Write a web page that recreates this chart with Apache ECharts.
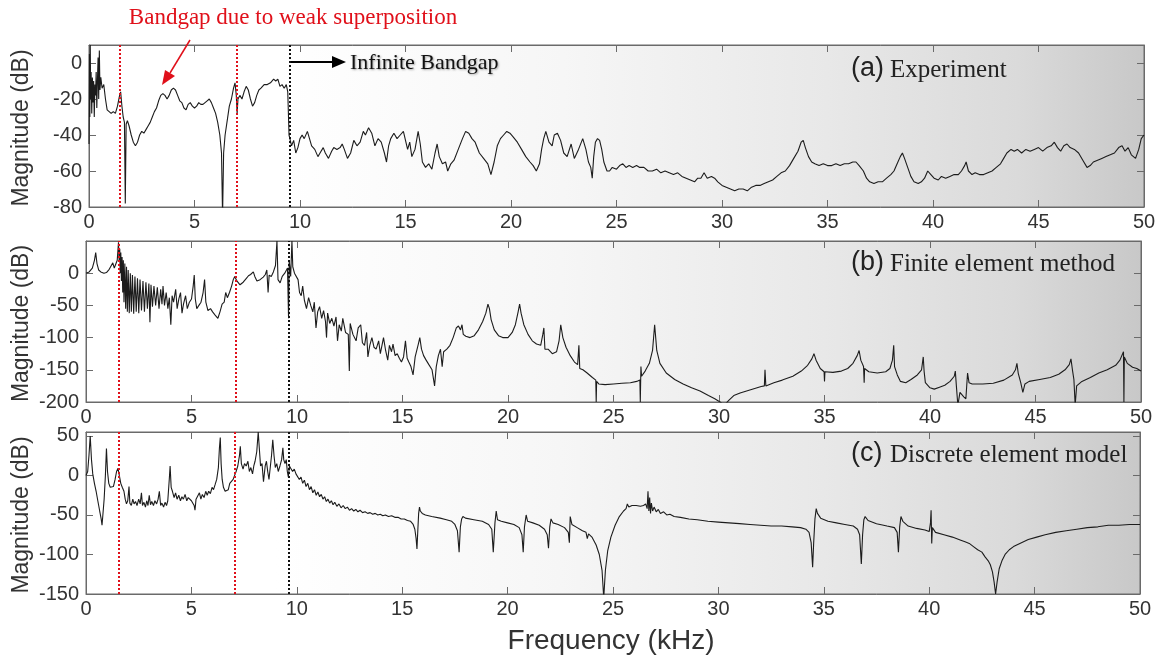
<!DOCTYPE html>
<html><head><meta charset="utf-8">
<script src="https://cdn.jsdelivr.net/npm/echarts@6/dist/echarts.min.js"></script>
<style>html,body{margin:0;padding:0;background:#fff}#c{width:1164px;height:664px}</style>
</head><body><div id="c"></div>
<script>
// ---------- data (frequency kHz, magnitude dB) ----------
const xTicks = {min: 0, max: 50, interval: 5};
const panelTitles = ['(a)', '(b)', '(c)'];
const panelNames = ['Experiment', 'Finite element method', 'Discrete element model'];
const yRanges = [[-80, 10, 20], [-200, 50, 50], [-150, 55, 50]];
const redLines = [[1.45, 6.98], [1.55, 7.08], [1.55, 7.08]];
const blackLines = [9.5, 9.6, 9.6];

const experiment = [
[0.00,-45],[0.02,5],[0.04,-30],[0.06,10],[0.08,-20],[0.10,-5],[0.13,-28],[0.16,-8],[0.19,-22],[0.22,-10],[0.25,-30],[0.28,-12],[0.31,-18],[0.34,-5],[0.37,-25],[0.40,-10],[0.43,3],[0.46,-20],[0.49,7],[0.52,-15],[0.56,-8],[0.62,-14],[0.70,-12],[0.78,-20],[0.86,-26],[0.95,-25],[1.05,-28],[1.15,-27],[1.25,-28],[1.35,-24],[1.45,-18],[1.5,-16],[1.56,-24],[1.62,-30],[1.68,-33],[1.72,-78],[1.76,-34],[1.82,-32],[1.9,-35],[2.0,-40],[2.1,-44],[2.2,-46],[2.3,-44],[2.4,-40],[2.5,-38],[2.6,-39],[2.7,-37],[2.8,-35],[2.9,-33],[3.0,-30],[3.1,-27],[3.2,-25],[3.3,-21],[3.4,-18],[3.5,-17],[3.6,-18],[3.7,-20],[3.8,-18],[3.9,-15],[4.0,-14],[4.1,-15],[4.2,-18],[4.3,-21],[4.4,-22],[4.5,-25],[4.6,-26],[4.7,-23],[4.8,-22],[4.9,-24],[5.0,-25],[5.1,-24],[5.2,-22],[5.3,-23],[5.4,-23],[5.5,-22],[5.6,-21],[5.7,-20],[5.8,-22],[5.9,-25],[6.0,-28],[6.1,-33],[6.2,-40],[6.28,-50],[6.33,-85],[6.38,-50],[6.45,-40],[6.55,-32],[6.65,-24],[6.75,-20],[6.85,-14],[6.92,-11],[6.98,-18],[7.02,-28],[7.06,-20],[7.15,-18],[7.25,-20],[7.35,-16],[7.45,-13],[7.55,-15],[7.65,-20],[7.75,-24],[7.85,-22],[7.95,-18],[8.05,-15],[8.15,-14],[8.3,-12],[8.45,-12],[8.6,-11],[8.75,-9],[8.85,-10],[8.95,-9],[9.05,-13],[9.15,-12],[9.25,-14],[9.35,-12],[9.42,-16],[9.48,-40],
[9.52,-42],[9.6,-46],[9.7,-43],[9.8,-50],[9.9,-47],[10.0,-42],[10.1,-40],[10.2,-42],[10.35,-38],[10.45,-42],[10.55,-46],[10.7,-48],[10.85,-52],[10.95,-50],[11.1,-47],[11.2,-50],[11.35,-53],[11.5,-49],[11.6,-47],[11.75,-48],[11.9,-47],[12.0,-45],[12.1,-48],[12.25,-53],[12.4,-50],[12.55,-43],[12.7,-46],[12.85,-44],[13.0,-38],[13.1,-40],[13.25,-36],[13.4,-39],[13.55,-46],[13.7,-42],[13.85,-44],[14.0,-50],[14.1,-55],[14.2,-46],[14.3,-42],[14.45,-39],[14.6,-42],[14.75,-40],[14.9,-38],[15.0,-43],[15.1,-48],[15.2,-44],[15.3,-52],[15.45,-48],[15.6,-38],[15.7,-45],[15.8,-55],[15.95,-58],[16.1,-56],[16.25,-59],[16.4,-50],[16.5,-45],[16.6,-52],[16.75,-56],[16.9,-55],[17.0,-60],[17.15,-56],[17.3,-54],[17.5,-48],[17.7,-42],[17.85,-38],[18.0,-39],[18.15,-42],[18.3,-44],[18.5,-50],[18.7,-53],[18.9,-56],[19.05,-62],[19.2,-55],[19.35,-46],[19.5,-42],[19.65,-40],[19.8,-38],[19.95,-39],[20.1,-41],[20.3,-44],[20.5,-48],[20.7,-52],[20.9,-55],[21.05,-57],[21.2,-60],[21.35,-56],[21.45,-48],[21.55,-42],[21.65,-38],[21.8,-44],[21.95,-46],[22.05,-40],[22.2,-39],[22.35,-43],
[22.5,-50],[22.66,-52],[22.85,-45],[23.0,-53],[23.2,-48],[23.4,-42],[23.55,-48],[23.67,-55],[23.78,-58],[23.85,-64],[23.92,-52],[24.0,-44],[24.1,-42],[24.2,-43],[24.3,-48],[24.4,-55],[24.55,-60],[24.67,-60],[24.8,-58],[25.0,-59],[25.15,-57],[25.3,-56],[25.45,-58],[25.6,-57],[25.77,-58],[25.95,-57],[26.1,-58],[26.3,-58],[26.5,-60],[26.7,-60],[26.9,-59],[27.1,-61],[27.3,-60],[27.5,-61],[27.7,-62],[27.9,-61],[28.1,-63],[28.3,-64],[28.5,-65],[28.7,-66],[28.85,-64],[29.0,-64],[29.15,-61],[29.3,-64],[29.5,-63],[29.65,-64],[29.8,-66],[30.0,-68],[30.2,-69],[30.4,-70],[30.6,-71],[30.8,-70],[31.0,-70],[31.2,-71],[31.4,-69],[31.6,-68],[31.8,-68],[32.0,-67],[32.2,-66],[32.4,-65],[32.6,-63],[32.8,-61],[33.0,-60],[33.2,-57],[33.4,-53],[33.6,-49],[33.75,-44],[33.85,-43],[33.95,-47],[34.1,-52],[34.25,-55],[34.4,-56],[34.6,-57],[34.8,-56],[35.0,-57],[35.2,-57],[35.4,-56],[35.6,-57],[35.8,-56],[36.0,-56],[36.2,-55],[36.35,-55],[36.5,-57],[36.7,-60],[36.85,-64],[37.0,-66],[37.2,-67],[37.4,-66],[37.6,-66],[37.8,-64],[38.0,-62],[38.15,-60],[38.3,-56],[38.45,-52],[38.55,-50],[38.65,-53],[38.8,-58],[38.95,-63],[39.1,-66],[39.3,-67],[39.45,-66],[39.6,-64],[39.75,-60],[39.9,-62],[40.05,-64],[40.25,-65],[40.4,-63],[40.6,-64],[40.8,-63],[41.0,-62],[41.2,-62],[41.35,-60],[41.5,-57],[41.57,-55],[41.68,-60],[41.85,-62],[42.0,-61],[42.2,-62],[42.4,-62],[42.6,-61],[42.8,-60],[43.0,-58],[43.2,-56],[43.35,-53],[43.5,-50],[43.7,-48],[43.85,-49],[44.0,-48],[44.2,-50],[44.4,-48],[44.6,-49],[44.8,-48],[45.0,-47],[45.2,-49],[45.4,-47],[45.6,-46],[45.75,-44],[45.9,-47],[46.05,-49],[46.2,-46],[46.35,-45],[46.5,-47],[46.7,-48],[46.9,-50],[47.1,-54],[47.3,-58],[47.45,-57],[47.6,-55],[47.8,-54],[48.0,-53],[48.2,-52],[48.4,-51],[48.6,-50],[48.8,-47],[48.96,-46],[49.1,-49],[49.25,-47],[49.4,-51],[49.6,-53],[49.75,-48],[49.87,-42],[50,-40]
];

const finiteElement = [
[0,0],[0.15,2],[0.3,8],[0.4,20],[0.46,32],[0.52,15],[0.6,5],[0.7,2],[0.85,0],[0.97,1],[1.1,6],[1.2,12],[1.27,16],[1.34,8],[1.4,6],[1.48,20],[1.54,48],[1.57,20],
[1.6,38],[1.62,0],[1.65,32],[1.68,-12],[1.71,25],[1.74,-30],[1.77,20],[1.8,-45],[1.84,15],[1.88,-55],[1.92,10],[1.96,-60],[2.0,5],[2.05,-62],[2.1,0],[2.15,-60],[2.2,-3],[2.26,-63],[2.32,-5],[2.38,-60],[2.44,-8],[2.5,-62],[2.56,-10],[2.63,-58],[2.7,-12],[2.77,-60],[2.84,-14],[2.91,-55],[2.98,-16],[3.03,-76],[3.08,-18],[3.15,-52],[3.22,-20],[3.3,-50],[3.38,-22],[3.46,-55],[3.54,-25],[3.6,-48],[3.65,-20],[3.72,-50],[3.8,-30],[3.88,-55],[3.95,-38],[4.02,-80],[4.08,-35],[4.15,-45],[4.25,-25],[4.32,-55],[4.4,-40],[4.48,-30],[4.55,-62],[4.62,-48],[4.72,-35],[4.8,-55],[4.9,-45],[5.0,-40],[5.08,-20],[5.13,-3],[5.18,-40],[5.25,-55],[5.35,-50],[5.45,-45],[5.55,-30],[5.62,-10],[5.68,-45],[5.78,-58],[5.9,-55],[6.0,-60],[6.12,-65],[6.25,-70],[6.35,-60],[6.45,-48],[6.55,-45],[6.62,-30],[6.7,-38],[6.8,-30],[6.9,-20],[6.98,-10],[7.05,-5],[7.15,-12],[7.3,-18],[7.45,-14],[7.6,-8],[7.7,-4],[7.8,-2],[7.93,2],[8.0,-5],[8.1,-12],[8.25,-10],[8.4,-6],[8.5,-2],[8.57,5],[8.63,-30],[8.68,-3],[8.78,-5],[8.88,2],[8.98,12],[9.05,50],[9.1,-10],[9.2,-15],[9.3,-5],[9.42,0],[9.55,8],[9.6,-70],[9.63,20],[9.7,-5],[9.76,50],[9.8,10],[9.88,0],[9.97,-2],
[10.05,-10],[10.12,-30],[10.2,-35],[10.27,-20],[10.35,-42],[10.45,-55],[10.55,-38],[10.65,-50],[10.75,-60],[10.82,-45],[10.9,-85],[10.98,-60],[11.07,-52],[11.17,-70],[11.26,-58],[11.35,-75],[11.4,-100],[11.45,-62],[11.55,-78],[11.65,-70],[11.75,-82],[11.85,-68],[11.92,-105],[12.0,-80],[12.1,-90],[12.17,-70],[12.3,-92],[12.43,-95],[12.48,-152],[12.52,-78],[12.65,-95],[12.8,-105],[12.9,-85],[13.02,-80],[13.1,-108],[13.2,-112],[13.3,-92],[13.36,-130],[13.45,-112],[13.55,-100],[13.65,-115],[13.75,-118],[13.87,-105],[13.95,-125],[14.1,-100],[14.2,-120],[14.3,-135],[14.38,-112],[14.48,-122],[14.55,-110],[14.65,-128],[14.75,-125],[14.85,-132],[14.95,-138],[15.05,-130],[15.14,-105],[15.22,-132],[15.3,-138],[15.4,-145],[15.5,-158],[15.6,-130],[15.75,-110],[15.82,-100],[15.9,-118],[16.0,-128],[16.12,-135],[16.25,-142],[16.4,-150],[16.52,-175],[16.6,-145],[16.7,-128],[16.8,-118],[16.88,-145],[16.95,-122],[17.1,-118],[17.25,-112],[17.4,-100],[17.55,-85],[17.65,-82],[17.75,-88],[17.82,-80],[17.88,-95],[18.0,-98],[18.2,-100],[18.4,-97],[18.6,-88],[18.8,-75],[18.95,-62],[19.05,-48],[19.12,-55],[19.2,-72],[19.35,-88],[19.55,-97],[19.75,-100],[20.0,-100],[20.2,-92],[20.35,-80],[20.48,-60],[20.55,-48],[20.62,-62],[20.75,-80],[20.95,-95],[21.15,-105],[21.35,-110],[21.55,-112],[21.65,-95],[21.7,-85],[21.75,-118],[21.9,-118],[22.1,-125],[22.3,-122],[22.42,-105],[22.5,-80],[22.6,-100],[22.75,-115],[22.95,-128],[23.15,-138],[23.3,-142],[23.36,-112],[23.4,-148],[23.55,-150],[23.75,-155],[24.0,-162],[24.16,-166],[24.18,-200],[24.2,-168],[24.3,-172],[24.6,-173],[25.0,-172],[25.4,-171],[25.8,-170],[26.1,-168],[26.25,-166],[26.27,-200],[26.3,-145],[26.33,-160],[26.5,-152],[26.7,-140],[26.85,-120],[26.95,-80],[27.05,-120],[27.2,-140],[27.5,-155],[27.9,-165],[28.3,-172],[28.7,-178],[29.1,-183],[29.5,-190],[29.8,-195],[30.05,-200],[30.25,-205],[30.45,-198],[30.7,-190],[31.0,-186],[31.5,-181],[32.0,-176],[32.15,-175],[32.18,-150],[32.22,-175],[32.6,-170],[33.0,-166],[33.5,-160],[33.9,-152],[34.2,-143],[34.4,-133],[34.5,-125],[34.6,-135],[34.8,-148],[34.98,-153],[35.0,-168],[35.02,-153],[35.4,-154],[35.8,-152],[36.1,-148],[36.35,-140],[36.55,-128],[36.64,-120],[36.72,-135],[36.85,-145],[36.88,-170],[36.9,-148],[37.1,-153],[37.5,-155],[37.9,-153],[38.1,-148],[38.22,-135],[38.28,-112],[38.32,-145],[38.45,-158],[38.6,-168],[38.85,-170],[39.1,-165],[39.4,-158],[39.6,-150],[39.68,-130],[39.72,-152],[39.78,-170],[40.0,-178],[40.2,-180],[40.45,-177],[40.7,-174],[40.95,-168],[41.15,-160],[41.2,-152],[41.25,-175],[41.32,-205],[41.42,-185],[41.5,-182],[41.6,-192],[41.7,-195],[41.78,-155],[41.85,-170],[42.0,-172],[42.5,-172],[43.0,-171],[43.5,-166],[43.9,-158],[44.05,-150],[44.12,-140],[44.18,-155],[44.3,-170],[44.4,-185],[44.5,-172],[44.7,-168],[45.2,-165],[45.7,-162],[46.1,-157],[46.4,-150],[46.6,-142],[46.68,-133],[46.75,-150],[46.82,-165],[46.88,-205],[46.95,-175],[47.2,-168],[47.6,-162],[48.0,-155],[48.4,-150],[48.8,-143],[49.0,-135],[49.17,-122],[49.19,-200],[49.21,-130],[49.35,-140],[49.6,-146],[49.8,-148],[50,-152]
];

const discreteElement = [
[0,0],[0.08,5],[0.14,25],[0.2,50],[0.26,20],[0.32,2],[0.4,-10],[0.48,-20],[0.56,-32],[0.65,-45],[0.72,-55],[0.76,-63],[0.8,-50],[0.86,-30],[0.92,0],[0.97,34],[1.02,5],[1.08,-10],[1.15,-15],[1.22,-13],[1.3,-14],[1.38,-5],[1.45,5],[1.52,9],[1.58,0],[1.65,-10],[1.72,-15],[1.8,-20],[1.86,-30],[1.92,-36],[1.98,-32],[2.04,-14],[2.08,-35],[2.15,-38],[2.22,-30],[2.28,-36],[2.35,-33],[2.42,-38],[2.5,-30],[2.57,-36],[2.63,-22],[2.68,-38],[2.75,-34],[2.82,-40],[2.88,-32],[2.94,-38],[3.0,-25],[3.06,-37],[3.12,-33],[3.2,-38],[3.27,-32],[3.35,-36],[3.42,-30],[3.48,-20],[3.54,-38],[3.6,-35],[3.68,-40],[3.75,-34],[3.82,-38],[3.88,-32],[3.95,-5],[3.99,12],[4.04,-15],[4.1,-20],[4.18,-28],[4.25,-22],[4.32,-30],[4.4,-25],[4.48,-32],[4.55,-27],[4.62,-30],[4.7,-24],[4.78,-32],[4.85,-28],[4.92,-30],[5.0,-32],[5.08,-30],[5.13,-38],[5.17,-44],[5.22,-30],[5.3,-28],[5.38,-22],[5.45,-30],[5.52,-24],[5.6,-28],[5.68,-20],[5.75,-25],[5.82,-20],[5.9,-23],[5.98,-15],[6.05,-18],[6.12,-12],[6.2,-5],[6.28,10],[6.33,35],[6.37,48],[6.41,15],[6.46,-5],[6.52,-15],[6.6,-20],[6.68,-22],[6.75,-18],[6.82,-10],[6.9,-12],[6.98,-5],[7.05,-5],[7.12,5],[7.2,12],[7.28,25],[7.32,37],[7.37,15],[7.45,8],[7.52,15],[7.6,12],[7.68,18],[7.75,5],[7.82,10],[7.9,2],[7.96,12],[8.02,18],[8.1,30],[8.17,55],[8.22,35],[8.28,12],[8.35,15],[8.42,-8],[8.5,12],[8.56,18],[8.62,5],[8.68,-5],[8.72,5],[8.8,25],[8.86,45],[8.92,25],[8.98,10],[9.05,15],[9.12,5],[9.2,12],[9.28,20],[9.34,35],[9.38,20],[9.44,15],[9.5,20],[9.55,5],[9.6,-2],[9.65,12],[9.72,10],[9.8,5],[9.88,8],[9.96,2],
[10.04,4],[10.12,-5],[10.2,-2],[10.28,-10],[10.36,-6],[10.44,-14],[10.52,-10],[10.6,-18],[10.68,-14],[10.76,-22],[10.84,-18],[10.92,-25],[11.0,-21],[11.08,-27],[11.16,-24],[11.24,-30],[11.32,-27],[11.4,-33],[11.48,-30],[11.56,-35],[11.64,-32],[11.72,-37],[11.8,-34],[11.9,-39],[12.0,-36],[12.1,-41],[12.2,-38],[12.3,-42],[12.4,-40],[12.5,-44],[12.6,-42],[12.7,-45],[12.8,-43],[12.9,-46],[13.0,-44],[13.12,-47],[13.24,-46],[13.36,-48],[13.48,-47],[13.6,-49],[13.72,-48],[13.84,-50],[13.96,-49],[14.08,-51],[14.2,-50],[14.35,-52],[14.5,-51],[14.65,-53],[14.8,-53],[14.95,-55],[15.1,-55],[15.25,-57],[15.4,-58],[15.52,-62],[15.6,-68],[15.66,-80],[15.7,-93],[15.74,-70],[15.78,-48],[15.82,-40],[15.86,-45],[15.95,-48],[16.1,-50],[16.4,-52],[16.8,-54],[17.1,-56],[17.35,-58],[17.5,-62],[17.62,-70],[17.7,-97],[17.76,-65],[17.82,-55],[17.88,-52],[18.0,-54],[18.4,-56],[18.8,-58],[19.1,-62],[19.25,-68],[19.32,-97],[19.4,-60],[19.46,-45],[19.52,-56],[19.7,-58],[20.0,-60],[20.3,-62],[20.55,-66],[20.68,-75],[20.74,-97],[20.8,-65],[20.88,-50],[20.95,-58],[21.2,-60],[21.5,-63],[21.75,-68],[21.88,-75],[21.94,-92],[22.0,-65],[22.06,-55],[22.15,-60],[22.4,-62],[22.7,-66],[22.88,-72],[22.93,-85],[22.97,-52],[23.05,-62],[23.3,-66],[23.55,-70],[23.72,-72],[23.78,-80],[23.84,-74],[24.0,-78],[24.2,-88],[24.35,-100],[24.48,-120],[24.56,-155],[24.64,-120],[24.75,-95],[24.9,-78],[25.1,-63],[25.3,-52],[25.5,-45],[25.62,-42],[25.68,-36],[25.75,-40],[25.9,-38],[26.1,-38],[26.3,-39],[26.45,-38],[26.55,-36],[26.62,-42],[26.66,-20],[26.7,-45],[26.74,-28],[26.78,-48],[26.82,-35],[26.88,-45],[26.95,-40],[27.05,-46],[27.15,-43],[27.25,-48],[27.4,-46],[27.55,-50],[27.7,-49],[27.9,-52],[28.2,-53],[28.6,-55],[29.0,-56],[29.5,-58],[30.0,-59],[30.5,-60],[31.0,-61],[31.5,-62],[32.0,-63],[32.5,-64],[33.0,-64],[33.5,-65],[33.9,-66],[34.15,-68],[34.3,-72],[34.4,-85],[34.47,-116],[34.52,-85],[34.58,-55],[34.64,-42],[34.7,-48],[34.85,-54],[35.2,-58],[35.6,-60],[36.0,-62],[36.4,-64],[36.6,-68],[36.7,-75],[36.78,-112],[36.84,-75],[36.9,-56],[36.96,-52],[37.1,-57],[37.5,-61],[38.0,-64],[38.35,-66],[38.48,-72],[38.54,-97],[38.6,-65],[38.66,-52],[38.75,-58],[39.0,-64],[39.4,-67],[39.8,-69],[40.0,-71],[40.06,-60],[40.09,-44],[40.12,-86],[40.15,-66],[40.3,-72],[40.7,-75],[41.1,-78],[41.5,-82],[41.7,-84],[41.9,-86],[42.1,-90],[42.3,-94],[42.5,-97],[42.65,-103],[42.8,-108],[42.9,-113],[43.0,-122],[43.08,-135],[43.15,-150],[43.22,-135],[43.32,-118],[43.45,-108],[43.6,-100],[43.8,-94],[44.0,-90],[44.3,-86],[44.7,-81],[45.1,-78],[45.5,-75],[46.0,-72],[46.5,-70],[47.0,-68],[47.5,-66],[48.0,-65],[48.5,-63],[49.0,-63],[49.5,-62],[50,-62]
];
const seriesData = [experiment, finiteElement, discreteElement];

// ---------- layout ----------
const grids = [
  {left: 89, top: 45, width: 1055, height: 162},
  {left: 86, top: 241, width: 1055, height: 161},
  {left: 86, top: 432, width: 1054, height: 162}
];
const SANS = '"Liberation Sans", Arial, sans-serif';
const SERIF = '"Liberation Serif", "Times New Roman", serif';
const frameColor = '#6a6a6a';

const bg = new echarts.graphic.LinearGradient(0, 0, 1, 0, [
  {offset: 0, color: '#ffffff'}, {offset: 0.18, color: '#ffffff'},
  {offset: 0.45, color: '#f6f6f6'}, {offset: 0.7, color: '#e8e8e8'},
  {offset: 0.88, color: '#dadada'}, {offset: 1, color: '#c8c8c8'}
]);

const xAxis = [], yAxis = [], series = [];
grids.forEach((g, i) => {
  const tick = {show: true, inside: true, length: 7, lineStyle: {color: frameColor}};
  const line = {show: true, onZero: false, lineStyle: {color: frameColor}};
  xAxis.push({gridIndex: i, type: 'value', position: 'bottom', min: xTicks.min, max: xTicks.max, interval: xTicks.interval,
    axisLine: line, axisTick: tick, splitLine: {show: false},
    axisLabel: {color: '#333', fontFamily: SANS, fontSize: 20, margin: 5}});
  xAxis.push({gridIndex: i, type: 'value', position: 'top', min: xTicks.min, max: xTicks.max, interval: xTicks.interval,
    axisLine: line, axisTick: tick, splitLine: {show: false}, axisLabel: {show: false}});
  const yr = yRanges[i];
  yAxis.push({gridIndex: i, type: 'value', position: 'left', min: yr[0], max: yr[1], interval: yr[2],
    axisLine: line, axisTick: tick, splitLine: {show: false},
    axisLabel: {color: '#333', fontFamily: SANS, fontSize: 20, margin: 7, showMaxLabel: false}});
  yAxis.push({gridIndex: i, type: 'value', position: 'right', min: yr[0], max: yr[1], interval: yr[2],
    axisLine: line, axisTick: tick, splitLine: {show: false}, axisLabel: {show: false}});
  const ml = redLines[i].map(v => ({xAxis: v, lineStyle: {color: '#e0101a'}}));
  ml.push({xAxis: blackLines[i], lineStyle: {color: '#111'}});
  series.push({type: 'line', xAxisIndex: 2 * i, yAxisIndex: 2 * i, data: seriesData[i], showSymbol: false, symbol: 'none',
    lineStyle: {color: '#1c1c1c', width: 1.1}, animation: false, silent: true, clip: true, z: 3,
    markLine: {silent: true, symbol: ['none', 'none'], label: {show: false}, animation: false,
      lineStyle: {type: [2, 2], width: 2}, data: ml}});
});

const graphic = [];
grids.forEach((g, i) => {
  graphic.push({type: 'text', x: 22, y: g.top + g.height / 2 + 2, rotation: Math.PI / 2,
    style: {text: 'Magnitude (dB)', fontFamily: SANS, fontSize: 23, fill: '#333', align: 'center', verticalAlign: 'middle'}});
  graphic.push({type: 'text', x: 851, y: g.top + 24 - (i === 0 ? 0 : 2), z: 10,
    style: {text: panelTitles[i], fontFamily: SANS, fontSize: 27, fill: '#222', align: 'left', verticalAlign: 'middle'}});
  graphic.push({type: 'text', x: 890, y: g.top + 25 - (i === 0 ? 0 : 2), z: 10,
    style: {text: panelNames[i], fontFamily: SERIF, fontSize: 25, fill: '#222', align: 'left', verticalAlign: 'middle'}});
});
graphic.push({type: 'text', x: 611, y: 641,
  style: {text: 'Frequency (kHz)', fontFamily: SANS, fontSize: 28, fill: '#333', align: 'center', verticalAlign: 'middle'}});
graphic.push({type: 'text', x: 293, y: 18,
  style: {text: 'Bandgap due to weak superposition', fontFamily: SERIF, fontSize: 23, fill: '#e0101a', align: 'center', verticalAlign: 'middle'}});
graphic.push({type: 'line', shape: {x1: 190, y1: 40, x2: 170, y2: 73}, style: {stroke: '#e0101a', lineWidth: 1.5}, z: 10});
graphic.push({type: 'polygon', shape: {points: [[175, 76], [165, 70], [162, 85]]}, style: {fill: '#e0101a'}, z: 10});
graphic.push({type: 'line', shape: {x1: 291, y1: 62, x2: 334, y2: 62}, style: {stroke: '#000', lineWidth: 2}, z: 10});
graphic.push({type: 'polygon', shape: {points: [[332, 56], [346, 62], [332, 68]]}, style: {fill: '#000'}, z: 10});
graphic.push({type: 'text', x: 350, y: 63, z: 10,
  style: {text: 'Infinite Bandgap', fontFamily: SERIF, fontSize: 22, fill: '#111', align: 'left', verticalAlign: 'middle',
    textShadowColor: 'rgba(0,0,0,0.35)', textShadowBlur: 2, textShadowOffsetX: 1, textShadowOffsetY: 1}});

const chart = echarts.init(document.getElementById('c'), null, {renderer: 'canvas'});
chart.setOption({
  animation: false,
  grid: grids.map(g => Object.assign({show: true, backgroundColor: bg, borderColor: frameColor, borderWidth: 1, containLabel: false}, g)),
  xAxis, yAxis, series, graphic
});
</script></body></html>
